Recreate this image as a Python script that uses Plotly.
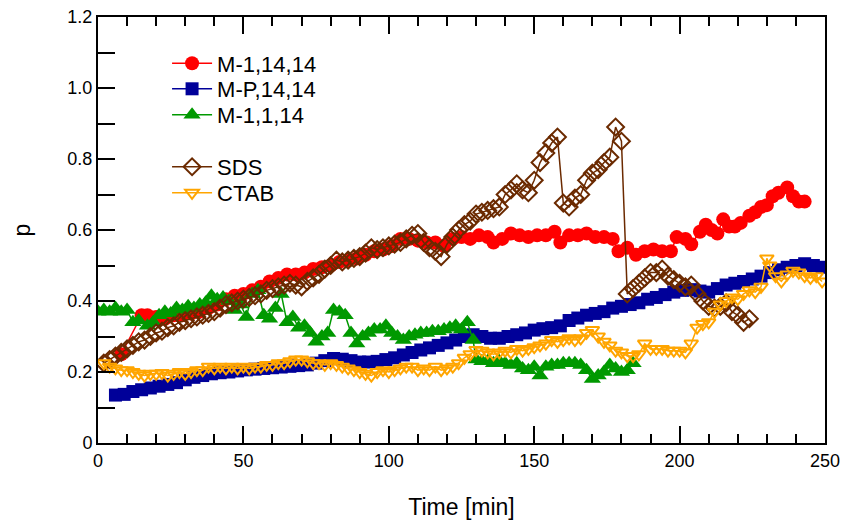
import plotly.graph_objects as go

# ---------------- data ----------------
t_red = [8, 15, 17, 20, 23, 26, 29, 32, 35, 38, 41, 44, 47, 50, 53, 56, 59, 62, 65, 68,
         71, 74, 77, 80, 83, 86, 89, 92, 95, 98, 101, 104, 107, 110, 113, 116, 119, 122, 125, 128,
         131, 134, 136, 139, 142, 145, 148, 151, 154, 157, 159, 162, 165, 168, 171, 174, 177, 179, 182, 185,
         188, 191, 194, 197, 199, 202, 204, 207, 209, 211, 213, 215, 217, 219, 221, 224, 226, 228, 230, 232,
         234, 237, 239, 241, 243]
p_red = [0.25, 0.36, 0.36, 0.355, 0.35, 0.36, 0.36, 0.365, 0.37, 0.38, 0.39, 0.405, 0.415, 0.42, 0.43, 0.44, 0.455, 0.465, 0.475, 0.475,
         0.48, 0.49, 0.495, 0.50, 0.51, 0.515, 0.52, 0.53, 0.54, 0.545, 0.555, 0.575, 0.575, 0.57, 0.565, 0.565, 0.555, 0.575, 0.58, 0.575,
         0.585, 0.58, 0.565, 0.575, 0.59, 0.585, 0.58, 0.585, 0.585, 0.595, 0.565, 0.585, 0.585, 0.59, 0.58, 0.58, 0.575, 0.54, 0.55, 0.53,
         0.54, 0.545, 0.54, 0.54, 0.58, 0.575, 0.56, 0.595, 0.615, 0.60, 0.59, 0.63, 0.61, 0.61, 0.62, 0.64, 0.65, 0.665, 0.67, 0.695,
         0.705, 0.72, 0.695, 0.68, 0.68]

t_blue = [6, 9, 12, 15, 18, 21, 24, 27, 30, 33, 36, 39, 42, 45, 48, 51, 54, 57, 60, 63,
          66, 69, 72, 75, 78, 81, 84, 87, 90, 93, 96, 99, 102, 105, 108, 111, 114, 117, 120, 123,
          126, 129, 132, 135, 138, 141, 144, 147, 150, 153, 156, 159, 162, 165, 168, 171, 174, 177, 180, 183,
          186, 189, 192, 195, 198, 201, 204, 207, 210, 213, 216, 219, 222, 225, 228, 231, 234, 237, 240, 243,
          246, 249]
p_blue = [0.135, 0.137, 0.145, 0.15, 0.155, 0.16, 0.165, 0.17, 0.178, 0.185, 0.19, 0.195, 0.198, 0.2, 0.203, 0.206, 0.208, 0.21, 0.212, 0.214,
          0.216, 0.218, 0.22, 0.225, 0.232, 0.238, 0.236, 0.232, 0.228, 0.228, 0.23, 0.235, 0.24, 0.248, 0.255, 0.262, 0.268, 0.275, 0.282, 0.29,
          0.3, 0.305, 0.3, 0.295, 0.295, 0.3, 0.305, 0.31, 0.318, 0.322, 0.325, 0.33, 0.345, 0.352, 0.36, 0.365, 0.37, 0.38, 0.385, 0.39,
          0.395, 0.405, 0.41, 0.418, 0.425, 0.43, 0.432, 0.428, 0.425, 0.435, 0.445, 0.45, 0.455, 0.462, 0.47, 0.48, 0.488, 0.495, 0.5, 0.505,
          0.5, 0.495]

t_green = [0, 2, 4, 6, 8, 10, 12, 14, 17, 19, 21, 23, 25, 27, 29, 31, 33, 35, 37, 39,
           41, 43, 45, 47, 49, 51, 53, 55, 57, 59, 61, 63, 65, 67, 69, 71, 73, 75, 77, 79,
           81, 83, 85, 87, 89, 91, 93, 95, 97, 99, 101, 103, 105, 107, 109, 111, 113, 115, 117, 119,
           121, 123, 125, 127, 129, 130, 132, 134, 136, 138, 140, 142, 144, 146, 148, 150, 152, 154, 156, 158,
           160, 162, 164, 166, 168, 170, 172, 174, 176, 178, 180, 182, 184]
p_green = [0.37, 0.375, 0.37, 0.38, 0.37, 0.375, 0.34, 0.345, 0.33, 0.34, 0.36, 0.37, 0.365, 0.38, 0.375, 0.385, 0.38, 0.39, 0.395, 0.415,
           0.405, 0.41, 0.40, 0.375, 0.39, 0.355, 0.42, 0.43, 0.36, 0.35, 0.38, 0.42, 0.34, 0.355, 0.325, 0.33, 0.31, 0.285, 0.30, 0.31,
           0.375, 0.37, 0.36, 0.31, 0.28, 0.30, 0.31, 0.32, 0.32, 0.33, 0.31, 0.30, 0.29, 0.30, 0.305, 0.31, 0.31, 0.315, 0.315, 0.32,
           0.325, 0.33, 0.32, 0.34, 0.29, 0.235, 0.23, 0.23, 0.225, 0.23, 0.225, 0.22, 0.225, 0.21, 0.205, 0.215, 0.19, 0.215, 0.22, 0.22,
           0.225, 0.225, 0.225, 0.22, 0.205, 0.18, 0.19, 0.20, 0.22, 0.21, 0.20, 0.205, 0.225]

t_sds = [2, 4, 6, 8, 10, 12, 14, 16, 18, 20, 22, 24, 26, 28, 30, 32, 34, 36, 38, 40,
         42, 44, 46, 48, 50, 52, 54, 56, 58, 60, 62, 64, 66, 68, 70, 72, 74, 76, 78, 80,
         82, 84, 86, 88, 90, 92, 94, 96, 98, 100, 102, 104, 106, 108, 110, 112, 114, 116, 118, 120,
         122, 124, 126, 128, 130, 132, 134, 136, 138, 140, 142, 144, 146, 148, 150, 152, 154, 156, 158, 160,
         162, 164, 166, 168, 170, 172, 174, 176, 178, 180, 182, 184, 186, 188, 190, 192, 194, 196, 198, 200,
         202, 204, 206, 208, 210, 212, 214, 216, 218, 220, 222, 224]
p_sds = [0.225, 0.235, 0.245, 0.255, 0.265, 0.275, 0.285, 0.29, 0.30, 0.31, 0.315, 0.325, 0.33, 0.34, 0.345, 0.35, 0.355, 0.36, 0.365, 0.37,
         0.38, 0.39, 0.395, 0.40, 0.405, 0.41, 0.415, 0.42, 0.43, 0.435, 0.44, 0.445, 0.45, 0.445, 0.44, 0.455, 0.465, 0.475, 0.49, 0.50,
         0.515, 0.51, 0.515, 0.52, 0.525, 0.535, 0.55, 0.545, 0.55, 0.555, 0.56, 0.565, 0.575, 0.585, 0.59, 0.565, 0.55, 0.54, 0.525, 0.56,
         0.58, 0.60, 0.615, 0.625, 0.645, 0.65, 0.655, 0.66, 0.665, 0.70, 0.713, 0.73, 0.713, 0.705, 0.74, 0.79, 0.817, 0.845, 0.862, 0.676,
         0.665, 0.69, 0.70, 0.74, 0.76, 0.77, 0.79, 0.805, 0.89, 0.85, 0.42, 0.435, 0.45, 0.465, 0.48, 0.48, 0.49, 0.47, 0.46, 0.45,
         0.44, 0.445, 0.42, 0.40, 0.385, 0.38, 0.385, 0.395, 0.37, 0.36, 0.34, 0.35]

t_ctab = [2, 4, 6, 8, 10, 12, 14, 16, 18, 20, 22, 24, 26, 28, 30, 32, 34, 36, 38, 40,
          42, 44, 46, 48, 50, 52, 54, 56, 58, 60, 62, 64, 66, 68, 70, 72, 74, 76, 78, 80,
          82, 84, 86, 88, 90, 92, 94, 96, 98, 100, 102, 104, 106, 108, 110, 112, 114, 116, 118, 120,
          122, 124, 126, 128, 130, 132, 134, 136, 138, 140, 142, 144, 146, 148, 150, 152, 154, 156, 158, 160,
          162, 164, 166, 168, 170, 172, 174, 176, 178, 180, 182, 184, 186, 188, 190, 192, 194, 196, 198, 200,
          202, 204, 206, 208, 210, 212, 214, 216, 218, 220, 222, 224, 226, 228, 230, 231, 233, 235, 237, 239,
          241, 243, 245, 247, 249]
p_ctab = [0.225, 0.215, 0.21, 0.205, 0.205, 0.20, 0.195, 0.19, 0.195, 0.195, 0.197, 0.19, 0.195, 0.20, 0.195, 0.20, 0.205, 0.205, 0.215, 0.21,
          0.215, 0.21, 0.215, 0.21, 0.215, 0.21, 0.215, 0.215, 0.22, 0.22, 0.225, 0.225, 0.23, 0.235, 0.235, 0.23, 0.225, 0.225, 0.22, 0.225,
          0.22, 0.215, 0.21, 0.205, 0.20, 0.195, 0.19, 0.20, 0.205, 0.20, 0.205, 0.21, 0.215, 0.215, 0.205, 0.21, 0.205, 0.215, 0.205, 0.21,
          0.215, 0.225, 0.24, 0.25, 0.262, 0.26, 0.255, 0.25, 0.255, 0.26, 0.255, 0.265, 0.26, 0.265, 0.27, 0.275, 0.28, 0.29, 0.285, 0.29,
          0.295, 0.29, 0.295, 0.31, 0.318, 0.30, 0.285, 0.275, 0.26, 0.255, 0.245, 0.245, 0.25, 0.28, 0.265, 0.265, 0.265, 0.26, 0.26, 0.26,
          0.255, 0.28, 0.325, 0.335, 0.34, 0.37, 0.39, 0.40, 0.41, 0.405, 0.42, 0.43, 0.425, 0.44, 0.52, 0.50, 0.47, 0.455, 0.475, 0.485,
          0.48, 0.47, 0.465, 0.47, 0.455]

x_ticks = [0, 50, 100, 150, 200, 250]
y_ticks = [0, 0.2, 0.4, 0.6, 0.8, 1.0, 1.2]
y_labels = ["0", "0.2", "0.4", "0.6", "0.8", "1.0", "1.2"]

# ---------------- figure ----------------
TICK_FONT = "Liberation Sans, Arial, sans-serif"
TEXT_FONT = "Liberation Sans, Arial, sans-serif"

fig = go.Figure()

def add(t, p, name, color, symbol, size, legend, open_=False):
    marker = dict(symbol=symbol, size=size, color=color)
    if open_:
        marker["line"] = dict(color=color, width=2)
    fig.add_trace(go.Scatter(
        x=t, y=p, name=name, mode="lines+markers",
        line=dict(color=color, width=1.5),
        marker=marker, legend=legend,
    ))

add(t_red, p_red, "M-1,14,14", "#ff0000", "circle", 14, "legend")
add(t_blue, p_blue, "M-P,14,14", "#000099", "square", 13, "legend2")
add(t_green, p_green, "M-1,1,14", "#009900", "triangle-up", 15, "legend3")
add(t_sds, p_sds, "SDS", "#6b2a00", "diamond-open", 13, "legend4", True)
add(t_ctab, p_ctab, "CTAB", "#ffa500", "triangle-down-open", 12, "legend5", True)

def leg(y):
    return dict(
        x=0.095, y=y, xanchor="left", yanchor="middle",
        font=dict(family=TEXT_FONT, size=22, color="black"),
        bgcolor="rgba(0,0,0,0)", itemwidth=40,
    )

fig.update_layout(
    width=847, height=520,
    margin=dict(l=98, r=22, t=17, b=77, autoexpand=False),
    paper_bgcolor="white", plot_bgcolor="white",
    font=dict(family=TEXT_FONT, color="black"),
    showlegend=True,
    legend=leg(0.891), legend2=leg(0.831), legend3=leg(0.770),
    legend4=leg(0.648), legend5=leg(0.587),
    xaxis=dict(
        range=[0, 250], tickvals=x_ticks, ticktext=[str(v) for v in x_ticks],
        ticks="inside", ticklen=17, tickwidth=1.5, tickcolor="black",
        minor=dict(dtick=10, ticks="inside", ticklen=9, tickwidth=1.5, tickcolor="black"),
        showline=True, linecolor="black", linewidth=2, mirror="ticks",
        showgrid=False, zeroline=False, automargin=False,
        tickfont=dict(family=TICK_FONT, size=18, color="black"),
        title=dict(text="Time [min]", font=dict(family=TICK_FONT, size=23, color="black"), standoff=38),
    ),
    yaxis=dict(
        range=[0, 1.2], tickvals=y_ticks, ticktext=y_labels,
        ticks="inside", ticklen=17, tickwidth=1.5, tickcolor="black",
        minor=dict(dtick=0.1, ticks="inside", ticklen=17, tickwidth=1.5, tickcolor="black"),
        showline=True, linecolor="black", linewidth=2, mirror=True,
        showgrid=False, zeroline=False, automargin=False,
        tickfont=dict(family=TICK_FONT, size=18, color="black"),
        title=dict(text="p", font=dict(family=TICK_FONT, size=23, color="black"), standoff=30),
    ),
    yaxis2=dict(
        range=[0, 1.2], overlaying="y", side="right", anchor="x",
        tickvals=y_ticks, showticklabels=False, automargin=False,
        ticks="inside", ticklen=17, tickwidth=1.5, tickcolor="black",
        minor=dict(dtick=0.1, ticks="inside", ticklen=9, tickwidth=1.5, tickcolor="black"),
        showline=False, showgrid=False, zeroline=False,
    ),
)

fig.write_html("out.html")
